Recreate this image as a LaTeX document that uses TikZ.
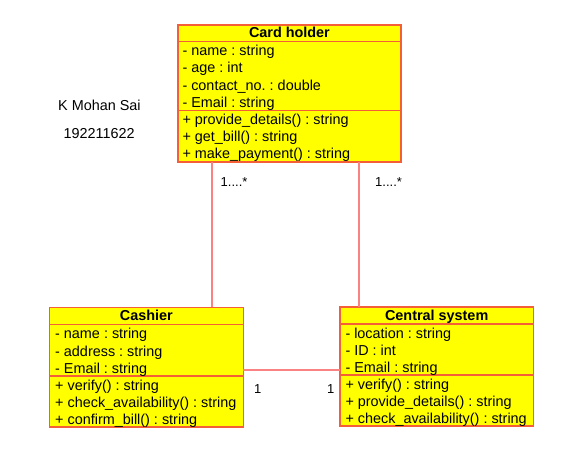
\documentclass[tikz,border=0pt]{standalone}
\usepackage{fontspec}
\setmainfont{Liberation Sans}
\frenchspacing
\definecolor{boxfill}{RGB}{255,255,0}
\definecolor{boxline}{RGB}{245,95,55}
\definecolor{connline}{RGB}{250,130,130}
\begin{document}
\begin{tikzpicture}[x=1pt,y=-1pt,
  cls/.style={draw=boxline, fill=boxfill, line width=1.6pt, anchor=north west, inner sep=0pt, outer sep=0pt},
  row/.style={anchor=base west, inner sep=0pt, font=\fontsize{14.4}{17}\selectfont},
  ttl/.style={anchor=base, inner sep=0pt, font=\fontsize{14.4}{17}\selectfont\bfseries},
  sepline/.style={draw=boxline, line width=1.6pt},
  conn/.style={draw=connline, line width=1.6pt},
  lbl/.style={inner sep=0pt, anchor=base west, font=\fontsize{13}{15}\selectfont},
  note/.style={inner sep=0pt, anchor=base west, font=\fontsize{14.4}{17}\selectfont}]
\useasboundingbox[fill=white] (0,0) rectangle (577,473);

% ---------- Card holder ----------
\node[cls, minimum width=223.3pt, minimum height=136.7pt] (ch) at (177.7,25) {};
\draw[sepline] (177.7,41.7) -- (401,41.7);
\draw[sepline] (177.7,110.7) -- (401,110.7);
\node[ttl] (chT) at (289.4,38) {Card holder};
\node[row] (ch1) at (182.3,55.7) {- name : string};
\node[row] (ch2) at (182.3,73) {- age : int};
\node[row] (ch3) at (182.3,90.2) {- contact\_no. : double};
\node[row] (ch4) at (182.3,107.2) {- Email : string};
\node[row] (ch5) at (182.3,124.7) {+ provide\_details() : string};
\node[row] (ch6) at (182.3,141.7) {+ get\_bill() : string};
\node[row] (ch7) at (182.3,158.5) {+ make\_payment() : string};

% ---------- Cashier ----------
\node[cls, minimum width=194pt, minimum height=119.4pt] (ca) at (49.3,307.3) {};
\draw[sepline] (49.3,324.3) -- (243.3,324.3);
\draw[sepline] (49.3,376) -- (243.3,376);
\node[ttl] (caT) at (146.3,320.5) {Cashier};
\node[row] (ca1) at (55,338.8) {- name : string};
\node[row] (ca2) at (55,356) {- address : string};
\node[row] (ca3) at (55,373.2) {- Email : string};
\node[row] (ca4) at (55,390.5) {+ verify() : string};
\node[row] (ca5) at (55,407.3) {+ check\_availability() : string};
\node[row] (ca6) at (55,424) {+ confirm\_bill() : string};

% ---------- Central system ----------
\node[cls, minimum width=193.3pt, minimum height=119.3pt] (cs) at (340,306.7) {};
\draw[sepline] (340,324) -- (533.3,324);
\draw[sepline] (340,375) -- (533.3,375);
\node[ttl] (csT) at (436.7,320) {Central system};
\node[row] (cs1) at (345.3,338.3) {- location : string};
\node[row] (cs2) at (345.3,355.5) {- ID : int};
\node[row] (cs3) at (345.3,372.7) {- Email : string};
\node[row] (cs4) at (345.3,389.8) {+ verify() : string};
\node[row] (cs5) at (345.3,406.6) {+ provide\_details() : string};
\node[row] (cs6) at (345.3,423.4) {+ check\_availability() : string};

% ---------- connectors ----------
\coordinate (pL) at (211.7,0);
\coordinate (pR) at (359,0);
\coordinate (pH) at (0,370);
\draw[conn] (ch.south -| pL) -- (ca.north -| pL);
\draw[conn] (ch.south -| pR) -- (cs.north -| pR);
\draw[conn] (ca.east |- pH) -- (cs.west |- pH);

% ---------- labels ----------
\node[lbl] (m1) at (220.5,186.2) {1....*};
\node[lbl] (m2) at (375,186) {1....*};
\node[lbl] (m3) at (254,393.3) {1};
\node[lbl] (m4) at (327,393.3) {1};

\node[note] (auth) at (58,111) {K Mohan Sai};
\node[note] (roll) at (63.5,139) {192211622};
\end{tikzpicture}
\end{document}
